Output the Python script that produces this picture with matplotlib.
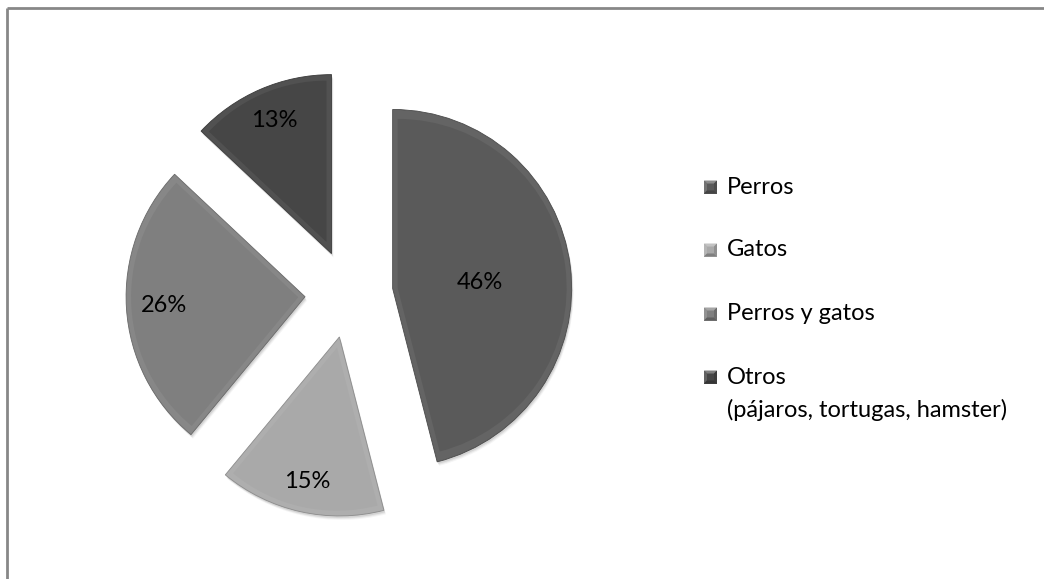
import numpy as np
import matplotlib
matplotlib.use("Agg")
import matplotlib.pyplot as plt
from matplotlib.patches import Wedge, Polygon, Rectangle
from matplotlib.lines import Line2D
from matplotlib.colors import to_rgb

# --- data -------------------------------------------------------------
categories = ["Perros", "Gatos", "Perros y gatos", "Otros"]
legend_labels = ["Perros", "Gatos", "Perros y gatos",
                 "Otros\n(pájaros, tortugas, hamster)"]
values = [46, 15, 26, 13]
colors = ["#5a5a5a", "#a9a9a9", "#7f7f7f", "#464646"]

# --- figure in pixel units ---------------------------------------------
W, H = 1044, 579
fig = plt.figure(figsize=(W / 100, H / 100), dpi=100)
ax = fig.add_axes([0, 0, 1, 1])

FONT = ["Lato", "DejaVu Sans"]

center = (349, H - 294)
radius = 179
offset = 44
label_dist = [0.49, 0.83, 0.79, 0.81]
label_shift = [-5, 0, 0, 0]


def lighten(c, f):
    r, g, b = to_rgb(c)
    return (r + (1 - r) * f, g + (1 - g) * f, b + (1 - b) * f)


def darken(c, f):
    r, g, b = to_rgb(c)
    return (r * (1 - f), g * (1 - f), b * (1 - f))


wedges, _ = ax.pie(values, colors=colors, startangle=90, counterclock=False,
                   center=center, radius=radius,
                   explode=[offset] * len(values),
                   wedgeprops=dict(linewidth=0, zorder=3),
                   frame=True)
ax.set_xlim(0, W)
ax.set_ylim(0, H)
ax.set_aspect("equal")
ax.axis("off")

bevel = 5
for w, c, v, d, sh in zip(wedges, colors, values, label_dist, label_shift):
    cx, cy = w.center
    t1, t2 = w.theta1, w.theta2
    r = w.r
    # soft drop shadow
    for k, a in zip((4, 3, 2), (0.04, 0.06, 0.08)):
        ax.add_patch(Wedge((cx + k * 0.5, cy - k), r, t1, t2,
                           facecolor="black", alpha=a, lw=0, zorder=1))
    w.set_facecolor(lighten(c, 0.06))
    w.set_edgecolor(darken(c, 0.18))
    w.set_linewidth(0.6)
    # inner face, inset to leave a bevelled rim
    half = np.radians((t2 - t1) / 2)
    tm = np.radians((t1 + t2) / 2)
    s = bevel / np.sin(half) if half < np.pi / 2 else bevel
    ix = cx + s * np.cos(tm)
    iy = cy + s * np.sin(tm)
    ax.add_patch(Wedge((ix, iy), r - bevel - s, t1, t2,
                       facecolor=c, lw=0, zorder=4))
    # percentage label
    lx = cx + d * r * np.cos(tm)
    ly = cy + d * r * np.sin(tm) + sh
    ax.text(lx, ly, f"{v}%", ha="center", va="center", fontsize=17,
            family=FONT, color="black", zorder=6)

# --- legend ---------------------------------------------------------------
row_y = [187, 250, 314, 377]
mx, msz = 704, 13
tx = 727
for c, lab, y in zip(colors, legend_labels, row_y):
    yy = H - y
    x0, y0 = mx, yy - msz / 2
    x1, y1 = mx + msz, yy + msz / 2
    b = 3
    ax.add_patch(Rectangle((x0, y0), msz, msz, facecolor=c, lw=0, zorder=5))
    ax.add_patch(Polygon([(x0, y1), (x1, y1), (x1 - b, y1 - b), (x0 + b, y1 - b)],
                         facecolor=lighten(c, 0.3), lw=0, zorder=6))
    ax.add_patch(Polygon([(x0, y0), (x0, y1), (x0 + b, y1 - b), (x0 + b, y0 + b)],
                         facecolor=lighten(c, 0.15), lw=0, zorder=6))
    ax.add_patch(Polygon([(x0, y0), (x1, y0), (x1 - b, y0 + b), (x0 + b, y0 + b)],
                         facecolor=darken(c, 0.25), lw=0, zorder=6))
    ax.add_patch(Polygon([(x1, y0), (x1, y1), (x1 - b, y1 - b), (x1 - b, y0 + b)],
                         facecolor=darken(c, 0.15), lw=0, zorder=6))
    lines = lab.split("\n")
    for i, line in enumerate(lines):
        ax.text(tx, yy - 33 * i, line, ha="left", va="center",
                fontsize=17, family=FONT, color="black", zorder=6)

# --- chart-area frame (top and left edges) -------------------------------
ax.add_line(Line2D([7, W], [H - 7.5, H - 7.5], color="#878787", lw=2,
                   zorder=7, solid_capstyle="butt"))
ax.add_line(Line2D([7, 7], [0, H - 7.5], color="#878787", lw=2,
                   zorder=7, solid_capstyle="butt"))

fig.savefig("out.png", dpi=100, facecolor="white")
